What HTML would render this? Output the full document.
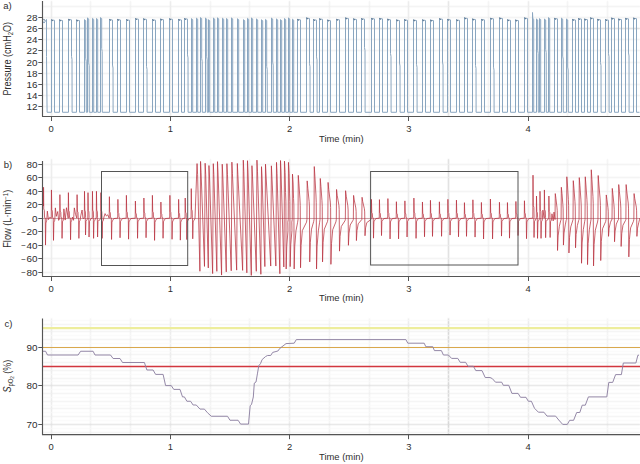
<!DOCTYPE html>
<html><head><meta charset="utf-8"><style>
html,body{margin:0;padding:0;background:#fff;width:640px;height:464px;overflow:hidden}
svg{display:block}
text{font-family:"Liberation Sans", sans-serif}
</style></head><body>
<svg width="640" height="464" viewBox="0 0 640 464" font-family='"Liberation Sans", sans-serif'><defs><filter id="sm" x="0" y="0" width="640" height="464" filterUnits="userSpaceOnUse" color-interpolation-filters="sRGB"><feConvolveMatrix order="3" kernelMatrix="1 2 1 2 8 2 1 2 1" divisor="20" edgeMode="none"/></filter></defs><rect width="640" height="464" fill="#fff"/><g filter="url(#sm)"><line x1="51.5" y1="1.0" x2="51.5" y2="116.5" stroke="#dedede" stroke-width="0.9"/><line x1="90.5" y1="1.0" x2="90.5" y2="116.5" stroke="#ebebeb" stroke-width="0.9"/><line x1="130.5" y1="1.0" x2="130.5" y2="116.5" stroke="#ebebeb" stroke-width="0.9"/><line x1="170.5" y1="1.0" x2="170.5" y2="116.5" stroke="#dedede" stroke-width="0.9"/><line x1="210.5" y1="1.0" x2="210.5" y2="116.5" stroke="#ebebeb" stroke-width="0.9"/><line x1="249.5" y1="1.0" x2="249.5" y2="116.5" stroke="#ebebeb" stroke-width="0.9"/><line x1="289.5" y1="1.0" x2="289.5" y2="116.5" stroke="#dedede" stroke-width="0.9"/><line x1="329.5" y1="1.0" x2="329.5" y2="116.5" stroke="#ebebeb" stroke-width="0.9"/><line x1="369.5" y1="1.0" x2="369.5" y2="116.5" stroke="#ebebeb" stroke-width="0.9"/><line x1="408.5" y1="1.0" x2="408.5" y2="116.5" stroke="#dedede" stroke-width="0.9"/><line x1="448.5" y1="1.0" x2="448.5" y2="116.5" stroke="#d4d4d4" stroke-width="0.9"/><line x1="488.5" y1="1.0" x2="488.5" y2="116.5" stroke="#ebebeb" stroke-width="0.9"/><line x1="528.5" y1="1.0" x2="528.5" y2="116.5" stroke="#dedede" stroke-width="0.9"/><line x1="567.5" y1="1.0" x2="567.5" y2="116.5" stroke="#ebebeb" stroke-width="0.9"/><line x1="607.5" y1="1.0" x2="607.5" y2="116.5" stroke="#ebebeb" stroke-width="0.9"/><line x1="42.5" y1="106.5" x2="640" y2="106.5" stroke="#ececec" stroke-width="1"/><line x1="42.5" y1="95.5" x2="640" y2="95.5" stroke="#ececec" stroke-width="1"/><line x1="42.5" y1="84.5" x2="640" y2="84.5" stroke="#ececec" stroke-width="1"/><line x1="42.5" y1="73.5" x2="640" y2="73.5" stroke="#ececec" stroke-width="1"/><line x1="42.5" y1="62.5" x2="640" y2="62.5" stroke="#ececec" stroke-width="1"/><line x1="42.5" y1="50.5" x2="640" y2="50.5" stroke="#ececec" stroke-width="1"/><line x1="42.5" y1="39.5" x2="640" y2="39.5" stroke="#ececec" stroke-width="1"/><line x1="42.5" y1="28.5" x2="640" y2="28.5" stroke="#ececec" stroke-width="1"/><line x1="42.5" y1="17.5" x2="640" y2="17.5" stroke="#ececec" stroke-width="1"/><line x1="42.5" y1="6.5" x2="640" y2="6.5" stroke="#ececec" stroke-width="1"/><line x1="42.5" y1="28.5" x2="640" y2="28.5" stroke="#cdcdcd" stroke-width="1.0"/><line x1="51.5" y1="159" x2="51.5" y2="276.5" stroke="#dedede" stroke-width="0.9"/><line x1="90.5" y1="159" x2="90.5" y2="276.5" stroke="#ebebeb" stroke-width="0.9"/><line x1="130.5" y1="159" x2="130.5" y2="276.5" stroke="#ebebeb" stroke-width="0.9"/><line x1="170.5" y1="159" x2="170.5" y2="276.5" stroke="#dedede" stroke-width="0.9"/><line x1="210.5" y1="159" x2="210.5" y2="276.5" stroke="#ebebeb" stroke-width="0.9"/><line x1="249.5" y1="159" x2="249.5" y2="276.5" stroke="#ebebeb" stroke-width="0.9"/><line x1="289.5" y1="159" x2="289.5" y2="276.5" stroke="#dedede" stroke-width="0.9"/><line x1="329.5" y1="159" x2="329.5" y2="276.5" stroke="#ebebeb" stroke-width="0.9"/><line x1="369.5" y1="159" x2="369.5" y2="276.5" stroke="#ebebeb" stroke-width="0.9"/><line x1="408.5" y1="159" x2="408.5" y2="276.5" stroke="#dedede" stroke-width="0.9"/><line x1="448.5" y1="159" x2="448.5" y2="276.5" stroke="#c8c8c8" stroke-width="0.9"/><line x1="488.5" y1="159" x2="488.5" y2="276.5" stroke="#ebebeb" stroke-width="0.9"/><line x1="528.5" y1="159" x2="528.5" y2="276.5" stroke="#dedede" stroke-width="0.9"/><line x1="567.5" y1="159" x2="567.5" y2="276.5" stroke="#ebebeb" stroke-width="0.9"/><line x1="607.5" y1="159" x2="607.5" y2="276.5" stroke="#ebebeb" stroke-width="0.9"/><line x1="42.5" y1="272.5" x2="640" y2="272.5" stroke="#ececec" stroke-width="1"/><line x1="42.5" y1="258.5" x2="640" y2="258.5" stroke="#ececec" stroke-width="1"/><line x1="42.5" y1="245.5" x2="640" y2="245.5" stroke="#ececec" stroke-width="1"/><line x1="42.5" y1="231.5" x2="640" y2="231.5" stroke="#ececec" stroke-width="1"/><line x1="42.5" y1="218.5" x2="640" y2="218.5" stroke="#ececec" stroke-width="1"/><line x1="42.5" y1="204.5" x2="640" y2="204.5" stroke="#ececec" stroke-width="1"/><line x1="42.5" y1="191.5" x2="640" y2="191.5" stroke="#ececec" stroke-width="1"/><line x1="42.5" y1="177.5" x2="640" y2="177.5" stroke="#ececec" stroke-width="1"/><line x1="42.5" y1="164.5" x2="640" y2="164.5" stroke="#ececec" stroke-width="1"/><line x1="51.5" y1="318.5" x2="51.5" y2="434.7" stroke="#dedede" stroke-width="0.9"/><line x1="90.5" y1="318.5" x2="90.5" y2="434.7" stroke="#ebebeb" stroke-width="0.9"/><line x1="130.5" y1="318.5" x2="130.5" y2="434.7" stroke="#ebebeb" stroke-width="0.9"/><line x1="170.5" y1="318.5" x2="170.5" y2="434.7" stroke="#dedede" stroke-width="0.9"/><line x1="210.5" y1="318.5" x2="210.5" y2="434.7" stroke="#ebebeb" stroke-width="0.9"/><line x1="249.5" y1="318.5" x2="249.5" y2="434.7" stroke="#ebebeb" stroke-width="0.9"/><line x1="289.5" y1="318.5" x2="289.5" y2="434.7" stroke="#dedede" stroke-width="0.9"/><line x1="329.5" y1="318.5" x2="329.5" y2="434.7" stroke="#ebebeb" stroke-width="0.9"/><line x1="369.5" y1="318.5" x2="369.5" y2="434.7" stroke="#ebebeb" stroke-width="0.9"/><line x1="408.5" y1="318.5" x2="408.5" y2="434.7" stroke="#dedede" stroke-width="0.9"/><line x1="448.5" y1="318.5" x2="448.5" y2="434.7" stroke="#b8b8b8" stroke-width="0.9"/><line x1="488.5" y1="318.5" x2="488.5" y2="434.7" stroke="#ebebeb" stroke-width="0.9"/><line x1="528.5" y1="318.5" x2="528.5" y2="434.7" stroke="#dedede" stroke-width="0.9"/><line x1="567.5" y1="318.5" x2="567.5" y2="434.7" stroke="#ebebeb" stroke-width="0.9"/><line x1="607.5" y1="318.5" x2="607.5" y2="434.7" stroke="#ebebeb" stroke-width="0.9"/><line x1="42.5" y1="435.5" x2="640" y2="435.5" stroke="#f9f9f9" stroke-width="1"/><line x1="42.5" y1="428.5" x2="640" y2="428.5" stroke="#f9f9f9" stroke-width="1"/><line x1="42.5" y1="420.5" x2="640" y2="420.5" stroke="#f9f9f9" stroke-width="1"/><line x1="42.5" y1="412.5" x2="640" y2="412.5" stroke="#f9f9f9" stroke-width="1"/><line x1="42.5" y1="405.5" x2="640" y2="405.5" stroke="#f9f9f9" stroke-width="1"/><line x1="42.5" y1="397.5" x2="640" y2="397.5" stroke="#f9f9f9" stroke-width="1"/><line x1="42.5" y1="389.5" x2="640" y2="389.5" stroke="#f9f9f9" stroke-width="1"/><line x1="42.5" y1="381.5" x2="640" y2="381.5" stroke="#f9f9f9" stroke-width="1"/><line x1="42.5" y1="374.5" x2="640" y2="374.5" stroke="#f9f9f9" stroke-width="1"/><line x1="42.5" y1="366.5" x2="640" y2="366.5" stroke="#f9f9f9" stroke-width="1"/><line x1="42.5" y1="358.5" x2="640" y2="358.5" stroke="#f9f9f9" stroke-width="1"/><line x1="42.5" y1="351.5" x2="640" y2="351.5" stroke="#f9f9f9" stroke-width="1"/><line x1="42.5" y1="343.5" x2="640" y2="343.5" stroke="#f9f9f9" stroke-width="1"/><line x1="42.5" y1="335.5" x2="640" y2="335.5" stroke="#f9f9f9" stroke-width="1"/><line x1="42.5" y1="327.5" x2="640" y2="327.5" stroke="#f9f9f9" stroke-width="1"/><line x1="42.5" y1="320.5" x2="640" y2="320.5" stroke="#f9f9f9" stroke-width="1"/><line x1="42.5" y1="432.5" x2="640" y2="432.5" stroke="#eeeeee" stroke-width="1"/><line x1="42.5" y1="424.5" x2="640" y2="424.5" stroke="#eeeeee" stroke-width="1"/><line x1="42.5" y1="416.5" x2="640" y2="416.5" stroke="#eeeeee" stroke-width="1"/><line x1="42.5" y1="408.5" x2="640" y2="408.5" stroke="#eeeeee" stroke-width="1"/><line x1="42.5" y1="401.5" x2="640" y2="401.5" stroke="#eeeeee" stroke-width="1"/><line x1="42.5" y1="393.5" x2="640" y2="393.5" stroke="#eeeeee" stroke-width="1"/><line x1="42.5" y1="385.5" x2="640" y2="385.5" stroke="#eeeeee" stroke-width="1"/><line x1="42.5" y1="378.5" x2="640" y2="378.5" stroke="#eeeeee" stroke-width="1"/><line x1="42.5" y1="370.5" x2="640" y2="370.5" stroke="#eeeeee" stroke-width="1"/><line x1="42.5" y1="362.5" x2="640" y2="362.5" stroke="#eeeeee" stroke-width="1"/><line x1="42.5" y1="354.5" x2="640" y2="354.5" stroke="#eeeeee" stroke-width="1"/><line x1="42.5" y1="347.5" x2="640" y2="347.5" stroke="#eeeeee" stroke-width="1"/><line x1="42.5" y1="339.5" x2="640" y2="339.5" stroke="#eeeeee" stroke-width="1"/><line x1="42.5" y1="331.5" x2="640" y2="331.5" stroke="#eeeeee" stroke-width="1"/><line x1="42.5" y1="324.5" x2="640" y2="324.5" stroke="#eeeeee" stroke-width="1"/><line x1="42.5" y1="385.5" x2="640" y2="385.5" stroke="#dadada" stroke-width="1.0"/><line x1="42.5" y1="424.5" x2="640" y2="424.5" stroke="#dadada" stroke-width="1.0"/></g><line x1="42.5" y1="328.1" x2="640" y2="328.1" stroke="#eded9c" stroke-width="2.2"/><line x1="42.5" y1="347.5" x2="640" y2="347.5" stroke="#d9a84c" stroke-width="1.2"/><line x1="42.5" y1="366.5" x2="640" y2="366.5" stroke="#d2373f" stroke-width="1.3"/><path d="M42.5 351.25 L45.6 351.25 L47.5 355 L78.1 355 L80.6 351.25 L93.1 351.25 L95 355 L110.5 355 L113.1 358.5 L120 358.5 L122.5 362.5 L144.4 362.5 L146.9 370 L153.1 370 L155.6 374.4 L163.1 374.4 L165.6 385.6 L171.25 385.6 L173.75 389.4 L180 389.4 L182.5 396.9 L184.4 396.9 L186.9 401.25 L190.6 401.25 L193.1 405 L196.25 405 L200 409.1 L204.4 409.1 L207.5 412.75 L211.25 416.25 L227.5 416.25 L230 420.25 L238.1 420.25 L240.6 424.1 L248.5 424.1 L250.2 405.6 L251.5 404.5 L253.3 397 L254.3 383.1 L256 382 L257.4 373.9 L258.8 365.7 L260.5 363.6 L262.1 359.6 L265.6 356.5 L267.6 355.5 L270.7 355.5 L272.7 352.4 L277.9 351 L279.9 348.3 L284 345.2 L286 343.6 L294.2 343.2 L296.3 339.6 L405.9 339.6 L407.8 343.2 L424.2 343.2 L425.8 346.7 L432.8 346.7 L434.4 350.6 L441.4 350.6 L443.4 355 L448.4 355 L451.6 358.4 L457.8 358.4 L460.2 362.3 L465.6 362.3 L468 366.25 L473.4 366.25 L475.8 370.6 L482 370.6 L485.2 377.5 L490 377.5 L492.3 378.6 L495.5 382.2 L501.7 382.2 L503.3 385.3 L508.75 385.3 L511.9 393.4 L518.1 393.4 L520.5 397.3 L526 397.3 L528.3 401.25 L531.4 401.25 L534.5 408.3 L538.4 412.2 L543.9 412.2 L547 416.1 L555.6 416.1 L558.75 420 L562.7 424.4 L567.3 424.4 L569.7 420.3 L573.6 420.3 L576.7 412.5 L579.8 412.5 L582.2 405.2 L585.3 405.2 L588.4 396.9 L606.8 396.9 L608.8 382.4 L612.7 382.4 L615.6 374.6 L621.4 374.6 L623.3 363 L635.9 363 L637.9 355.2 L639 355.2" fill="none" stroke="#8e82a2" stroke-width="0.95" stroke-linejoin="round"/><path d="M43 21.4 L44 23.07 L46.5 19.45 L46.5 56.52 L47.1 112.28 L51.5 112.28 L51.5 19.44 L52.1 21.04 L52.6 20.04 L54.5 20.34 L54.5 112.28 L59.5 112.28 L59.5 19.61 L60.1 21.21 L60.6 20.21 L62.5 20.51 L62.5 112.28 L68.5 112.28 L68.5 18.96 L69.1 20.56 L69.6 19.56 L71.5 19.86 L71.5 56.36 L72 59.36 L72.1 112.28 L76.5 112.28 L76.5 19.69 L77.1 21.29 L77.6 20.29 L79.5 20.59 L79.5 112.28 L84.5 112.28 L84.5 19.62 L85.7 20.62 L85.7 58.21 L86.2 61.21 L86.3 112.28 L87.5 112.28 L87.5 17.93 L88.7 18.93 L88.7 62.7 L89.2 65.7 L89.3 112.28 L92.5 112.28 L92.5 18.38 L93.7 19.38 L93.7 112.28 L96.5 112.28 L96.5 18.49 L97.7 19.49 L97.7 112.28 L100.5 112.28 L100.5 17.6 L101.7 18.6 L101.7 48.53 L102.2 51.53 L102.3 112.28 L109.5 112.28 L109.5 19.13 L110.1 20.73 L110.6 19.73 L112.5 20.03 L112.5 65.05 L113 68.05 L113.1 112.28 L117.5 112.28 L117.5 19.09 L118.1 20.69 L118.6 19.69 L120.5 19.99 L120.5 112.28 L126.5 112.28 L126.5 19.37 L127.1 20.97 L127.6 19.97 L129.5 20.27 L129.5 112.28 L135.5 112.28 L135.5 18.35 L136.1 19.95 L136.6 18.95 L138.5 19.25 L138.5 112.28 L143.5 112.28 L143.5 18.55 L144.1 20.15 L144.6 19.15 L146.5 19.45 L146.5 66.35 L147 69.35 L147.1 112.28 L152.5 112.28 L152.5 19.32 L153.1 20.92 L153.6 19.92 L155.5 20.22 L155.5 112.28 L160.5 112.28 L160.5 18.82 L161.1 20.42 L161.6 19.42 L163.5 19.72 L163.5 112.28 L169.5 112.28 L169.5 18.47 L170.1 20.07 L170.6 19.07 L172.5 19.37 L172.5 112.28 L178.5 112.28 L178.5 19.11 L179.1 20.71 L179.6 19.71 L181.5 20.01 L181.5 112.28 L184.5 112.28 L184.5 18.22 L185.1 19.82 L185.6 18.82 L187.5 19.12 L187.5 54.87 L188 57.87 L188.1 112.28 L191.5 112.28 L191.5 18.6 L192.7 19.6 L192.7 112.28 L196.5 112.28 L196.5 18.15 L197.7 19.15 L197.7 112.28 L200.5 112.28 L200.5 17.59 L201.7 18.59 L201.7 58.35 L202.2 61.35 L202.3 112.28 L205.5 112.28 L205.5 18.09 L206.7 19.09 L206.7 56.77 L207.2 59.77 L207.3 112.28 L208.5 112.28 L208.5 19.69 L209.7 20.69 L209.7 112.28 L213.5 112.28 L213.5 18.07 L214.7 19.07 L214.7 112.28 L217.5 112.28 L217.5 17.82 L218.7 18.82 L218.7 112.28 L222.5 112.28 L222.5 18.23 L223.7 19.23 L223.7 112.28 L226.5 112.28 L226.5 18.48 L227.7 19.48 L227.7 112.28 L231.5 112.28 L231.5 17.9 L232.7 18.9 L232.7 112.28 L237.5 112.28 L237.5 18.72 L238.7 19.72 L238.7 112.28 L243.5 112.28 L243.5 19.64 L244.7 20.64 L244.7 112.28 L247.5 112.28 L247.5 18.33 L248.7 19.33 L248.7 112.28 L251.5 112.28 L251.5 17.94 L252.7 18.94 L252.7 112.28 L256.5 112.28 L256.5 18.92 L257.7 19.92 L257.7 112.28 L261.5 112.28 L261.5 19.73 L262.7 20.73 L262.7 112.28 L265.5 112.28 L265.5 19.4 L266.7 20.4 L266.7 66.36 L267.2 69.36 L267.3 112.28 L271.5 112.28 L271.5 18.06 L272.7 19.06 L272.7 62.15 L273.2 65.15 L273.3 112.28 L276.5 112.28 L276.5 18.9 L277.7 19.9 L277.7 112.28 L280.5 112.28 L280.5 19.6 L281.7 20.6 L281.7 112.28 L284.5 112.28 L284.5 18.55 L285.7 19.55 L285.7 112.28 L288.5 112.28 L288.5 17.95 L289.7 18.95 L289.7 112.28 L292.5 112.28 L292.5 19.16 L293.7 20.16 L293.7 112.28 L297.5 112.28 L297.5 18.98 L298.1 20.58 L298.6 19.58 L300.5 19.88 L300.5 112.28 L306.5 112.28 L306.5 17.64 L307.1 19.24 L307.6 18.24 L309.5 18.54 L309.5 63.75 L310 66.75 L310.1 112.28 L313.5 112.28 L313.5 19.26 L314.1 20.86 L314.6 19.86 L316.5 20.16 L316.5 56.86 L317 59.86 L317.1 112.28 L319.5 112.28 L319.5 18.46 L320.1 20.06 L320.6 19.06 L322.5 19.36 L322.5 112.28 L327.5 112.28 L327.5 19.77 L328.1 21.37 L328.6 20.37 L330.5 20.67 L330.5 112.28 L336.5 112.28 L336.5 18.95 L337.1 20.55 L337.6 19.55 L339.5 19.85 L339.5 112.28 L345.5 112.28 L345.5 17.65 L346.1 19.25 L346.6 18.25 L348.5 18.55 L348.5 112.28 L353.5 112.28 L353.5 18.63 L354.1 20.23 L354.6 19.23 L356.5 19.53 L356.5 112.28 L361.5 112.28 L361.5 18.27 L362.1 19.87 L362.6 18.87 L364.5 19.17 L364.5 47.62 L365 50.62 L365.1 112.28 L371.5 112.28 L371.5 18.04 L372.1 19.64 L372.6 18.64 L374.5 18.94 L374.5 112.28 L379.5 112.28 L379.5 18 L380.1 19.6 L380.6 18.6 L382.5 18.9 L382.5 112.28 L387.5 112.28 L387.5 18.89 L388.1 20.49 L388.6 19.49 L390.5 19.79 L390.5 53.53 L391 56.53 L391.1 112.28 L396.5 112.28 L396.5 19.64 L397.1 21.24 L397.6 20.24 L399.5 20.54 L399.5 63.02 L400 66.02 L400.1 112.28 L404.5 112.28 L404.5 19.41 L405.1 21.01 L405.6 20.01 L407.5 20.31 L407.5 112.28 L413.5 112.28 L413.5 19.66 L414.1 21.26 L414.6 20.26 L416.5 20.56 L416.5 64.3 L417 67.3 L417.1 112.28 L422.5 112.28 L422.5 19.55 L423.1 21.15 L423.6 20.15 L425.5 20.45 L425.5 112.28 L430.5 112.28 L430.5 19.72 L431.1 21.32 L431.6 20.32 L433.5 20.62 L433.5 112.28 L439.5 112.28 L439.5 18.41 L440.1 20.01 L440.6 19.01 L442.5 19.31 L442.5 62.05 L443 65.05 L443.1 112.28 L447.5 112.28 L447.5 19 L448.1 20.6 L448.6 19.6 L450.5 19.9 L450.5 112.28 L456.5 112.28 L456.5 19.5 L457.1 21.1 L457.6 20.1 L459.5 20.4 L459.5 112.28 L464.5 112.28 L464.5 17.56 L465.1 19.16 L465.6 18.16 L467.5 18.46 L467.5 112.28 L472.5 112.28 L472.5 18.7 L473.1 20.3 L473.6 19.3 L475.5 19.6 L475.5 65.4 L476 68.4 L476.1 112.28 L481.5 112.28 L481.5 19.01 L482.1 20.61 L482.6 19.61 L484.5 19.91 L484.5 112.28 L490.5 112.28 L490.5 17.93 L491.1 19.53 L491.6 18.53 L493.5 18.83 L493.5 67.16 L494 70.16 L494.1 112.28 L499.5 112.28 L499.5 17.66 L500.1 19.26 L500.6 18.26 L502.5 18.56 L502.5 112.28 L507.5 112.28 L507.5 19.45 L508.1 21.05 L508.6 20.05 L510.5 20.35 L510.5 112.28 L515.5 112.28 L515.5 19.72 L516.1 21.32 L516.6 20.32 L518.5 20.62 L518.5 112.28 L524.5 112.28 L524.5 17.59 L525.1 19.19 L525.6 18.19 L527.5 18.49 L527.5 112.28 L532.5 112.28 L532.5 12.5 L532.8 18.62 L532.5 18.22 L533.7 19.22 L533.7 112.28 L536.5 112.28 L536.5 18.96 L537.7 19.96 L537.7 50.46 L538.2 53.46 L538.3 112.28 L539.5 112.28 L539.5 18.59 L540.7 19.59 L540.7 112.28 L544.5 112.28 L544.5 19.04 L545.7 20.04 L545.7 49.58 L546.2 52.58 L546.3 112.28 L548.5 112.28 L548.5 17.58 L549.7 18.58 L549.7 112.28 L554.5 112.28 L554.5 17.98 L555.1 19.58 L555.6 18.58 L557.5 18.88 L557.5 112.28 L561.5 112.28 L561.5 18.13 L562.7 19.13 L562.7 56.13 L563.2 59.13 L563.3 112.28 L566.5 112.28 L566.5 18.98 L567.7 19.98 L567.7 67.05 L568.2 70.05 L568.3 112.28 L572.5 112.28 L572.5 19.15 L573.1 20.75 L573.6 19.75 L575.5 20.05 L575.5 112.28 L578.5 112.28 L578.5 18.23 L579.1 19.83 L579.6 18.83 L581.5 19.13 L581.5 112.28 L584.5 112.28 L584.5 18.78 L585.1 20.38 L585.6 19.38 L587.5 19.68 L587.5 112.28 L590.5 112.28 L590.5 17.57 L591.1 19.17 L591.6 18.17 L593.5 18.47 L593.5 112.28 L597.5 112.28 L597.5 18.96 L598.1 20.56 L598.6 19.56 L600.5 19.86 L600.5 62.62 L601 65.62 L601.1 112.28 L605.5 112.28 L605.5 19.34 L606.1 20.94 L606.6 19.94 L608.5 20.24 L608.5 53.76 L609 56.76 L609.1 112.28 L611.5 112.28 L611.5 17.77 L612.1 19.37 L612.6 18.37 L614.5 18.67 L614.5 112.28 L618.5 112.28 L618.5 18.71 L619.1 20.31 L619.6 19.31 L621.5 19.61 L621.5 112.28 L625.5 112.28 L625.5 17.99 L626.1 19.59 L626.6 18.59 L628.5 18.89 L628.5 52.94 L629 55.94 L629.1 112.28 L633.5 112.28 L633.5 17.75 L634.1 19.35 L634.6 18.35 L636.5 18.65 L636.5 112.28 L639.5 112.28" fill="none" stroke="#8aa6c0" stroke-width="1" stroke-linejoin="round"/><path d="M43.5 19.15 L44.7 20.35 M51.5 19.54 L52.7 20.74 M59.5 19.71 L60.7 20.91 M68.5 19.06 L69.7 20.26 M76.5 19.79 L77.7 20.99 M109.5 19.23 L110.7 20.43 M117.5 19.19 L118.7 20.39 M126.5 19.47 L127.7 20.67 M135.5 18.45 L136.7 19.65 M143.5 18.65 L144.7 19.85 M152.5 19.42 L153.7 20.62 M160.5 18.92 L161.7 20.12 M169.5 18.57 L170.7 19.77 M178.5 19.21 L179.7 20.41 M184.5 18.32 L185.7 19.52 M297.5 19.08 L298.7 20.28 M306.5 17.74 L307.7 18.94 M313.5 19.36 L314.7 20.56 M319.5 18.56 L320.7 19.76 M327.5 19.87 L328.7 21.07 M336.5 19.05 L337.7 20.25 M345.5 17.75 L346.7 18.95 M353.5 18.73 L354.7 19.93 M361.5 18.37 L362.7 19.57 M371.5 18.14 L372.7 19.34 M379.5 18.1 L380.7 19.3 M387.5 18.99 L388.7 20.19 M396.5 19.74 L397.7 20.94 M404.5 19.51 L405.7 20.71 M413.5 19.76 L414.7 20.96 M422.5 19.65 L423.7 20.85 M430.5 19.82 L431.7 21.02 M439.5 18.51 L440.7 19.71 M447.5 19.1 L448.7 20.3 M456.5 19.6 L457.7 20.8 M464.5 17.66 L465.7 18.86 M472.5 18.8 L473.7 20 M481.5 19.11 L482.7 20.31 M490.5 18.03 L491.7 19.23 M499.5 17.76 L500.7 18.96 M507.5 19.55 L508.7 20.75 M515.5 19.82 L516.7 21.02 M524.5 17.69 L525.7 18.89 M554.5 18.08 L555.7 19.28 M572.5 19.25 L573.7 20.45 M578.5 18.33 L579.7 19.53 M584.5 18.88 L585.7 20.08 M590.5 17.67 L591.7 18.87 M597.5 19.06 L598.7 20.26 M605.5 19.44 L606.7 20.64 M611.5 17.87 L612.7 19.07 M618.5 18.81 L619.7 20.01 M625.5 18.09 L626.7 19.29 M633.5 17.85 L634.7 19.05 " fill="none" stroke="#5f7890" stroke-width="1.1"/><line x1="42.5" y1="218.5" x2="640" y2="218.5" stroke="#c08890" stroke-width="0.8"/><path d="M43 203.41 L43.5 206.09 L43.55 187.26 L43.75 208.92 L44.35 210.47 L44.55 217.53 L45.25 217.86 L45.5 245.1 L45.9 223.04 L46.75 220.22 L47.35 211.14 L48.44 219.59 L49.71 217.32 L51.25 218.2 L51.45 189.95 L51.75 209.73 L52.35 211.14 L52.55 217.53 L53.25 217.86 L53.5 240.39 L53.9 222.19 L54.75 220.22 L55.35 207.86 L56.39 216.3 L57.76 211.51 L58.66 220.36 L59.7 218.2 L59.9 194.66 L60.2 211.14 L60.8 212.32 L61 217.53 L61.8 217.86 L62.05 238.38 L62.45 221.83 L63.3 220.22 L63.9 208.85 L65.18 220.07 L66.48 207.73 L68.2 218.2 L68.4 192.64 L68.7 210.53 L69.3 211.81 L69.5 217.53 L70.3 217.86 L70.55 239.72 L70.95 222.07 L71.8 220.22 L72.4 217.05 L73.53 220.3 L74.33 207.87 L75.52 214.44 L76.88 218.2 L77.08 194.66 L77.38 211.14 L77.98 212.32 L78.18 217.53 L78.64 217.86 L78.89 238.38 L79.29 221.83 L80.14 220.22 L80.74 215.82 L82.07 210.01 L82.99 218.51 L84.3 218.2 L84.5 191.3 L84.8 210.13 L85.4 211.47 L85.6 217.53 L85.29 217.86 L85.54 235.01 L85.94 221.23 L86.79 220.22 L87.8 218.2 L88 192.64 L88.3 210.53 L88.9 211.81 L89.1 217.53 L88.79 217.86 L89.04 237.03 L89.44 221.59 L90.29 220.22 L90.89 218.68 L92.26 218.2 L92.46 191.3 L92.76 210.13 L93.36 211.47 L93.56 217.53 L93.33 217.86 L93.58 238.38 L93.98 221.83 L94.83 220.22 L95.43 218.4 L96.26 218.2 L96.46 191.3 L96.76 210.13 L97.36 211.47 L97.56 217.53 L97.33 217.86 L97.58 237.03 L97.98 221.59 L98.83 220.22 L99.43 220.3 L100.7 218.2 L100.9 192.64 L101.2 210.53 L101.8 211.81 L102 217.53 L101.88 217.86 L102.13 238.38 L102.53 221.83 L103.38 220.22 L103.98 217 L105.05 213.6 L106.4 216.01 L107.75 214.81 L109.2 218.2 L109.4 196.68 L109.7 211.74 L110.3 212.82 L110.5 217.53 L111.3 217.86 L111.55 239.46 L111.95 222.03 L112.8 220.22 L113.8 218.54 L117.7 218.2 L117.9 199.37 L118.2 212.55 L118.8 213.49 L119 217.53 L119.8 217.86 L120.05 237.77 L120.45 221.72 L121.3 220.22 L122.3 218.54 L126.2 218.2 L126.4 195.33 L126.7 211.34 L127.3 212.48 L127.5 217.53 L128.3 217.86 L128.55 239.18 L128.95 221.98 L129.8 220.22 L130.8 218.54 L135.2 218.2 L135.4 201.05 L135.7 213.06 L136.3 213.91 L136.5 217.53 L137.3 217.86 L137.55 238.32 L137.95 221.82 L138.8 220.22 L139.8 218.54 L143.7 218.2 L143.9 198.02 L144.2 212.15 L144.8 213.16 L145 217.53 L145.8 217.86 L146.05 237.72 L146.45 221.71 L147.3 220.22 L148.3 218.54 L152.2 218.2 L152.4 195.33 L152.7 211.34 L153.3 212.48 L153.5 217.53 L154.3 217.86 L154.55 240.39 L154.95 222.19 L155.8 220.22 L156.8 218.54 L160.7 218.2 L160.9 202.06 L161.2 213.36 L161.8 214.16 L162 217.53 L162.8 217.86 L163.05 238.28 L163.45 221.81 L164.3 220.22 L165.3 218.54 L169.7 218.2 L169.9 195.33 L170.2 211.34 L170.8 212.48 L171 217.53 L171.8 217.86 L172.05 239.29 L172.45 222 L173.3 220.22 L174.3 218.54 L178.44 218.2 L178.64 199.37 L178.94 212.55 L179.54 213.49 L179.74 217.53 L180.09 217.86 L180.34 240.14 L180.74 222.15 L181.59 220.22 L182.59 218.54 L185.01 218.2 L185.21 198.02 L185.51 212.15 L186.11 213.16 L186.31 217.53 L186.54 217.86 L186.79 239.57 L187.19 222.05 L188.04 220.22 L189.04 218.54 L191.07 218.2 L191.27 188.61 L191.57 209.32 L192.17 210.8 L192.37 217.53 L192.49 217.86 L192.74 238.8 L193.14 221.91 L193.99 220.22 L194.99 218.54 L197.05 163.58 L197.6 174.5 L199.9 271.25 L200.55 161.43 L201.1 172.79 L204.49 266.42 L205.14 163.24 L205.69 174.23 L208.29 267.95 L208.94 165.53 L209.49 176.06 L212.64 273.58 L213.29 163.67 L213.84 174.57 L216.84 271.32 L217.49 161.63 L218.04 172.94 L221.57 275.09 L222.22 164.19 L222.77 174.99 L226.27 271.87 L226.92 163.68 L227.47 174.59 L231.23 270.79 L231.88 162.17 L232.43 173.38 L236.67 270.14 L237.32 163.46 L237.87 174.41 L242.64 270.42 L243.29 160.16 L243.84 171.77 L246.84 272.8 L247.49 160.69 L248.04 172.19 L251.3 275.41 L251.95 165.67 L252.5 176.17 L256.3 271.3 L256.95 160.15 L257.5 171.76 L260.86 274.31 L261.51 166.66 L262.06 176.96 L264.86 266.58 L265.51 164.19 L266.06 175 L270.73 266.06 L271.38 165.82 L271.93 176.3 L275.86 266.06 L276.51 162.36 L277.06 173.53 L279.86 273.71 L280.51 160.52 L281.06 172.06 L283.82 266.94 L284.22 219.54 L284.47 161.17 L285.12 172.58 L285.56 192.54 L285.86 201.09 L286.16 268.97 L286.76 246.13 L287.96 230.89 L287.82 222.26 L288.22 219.54 L288.47 162.38 L289.12 173.55 L289.56 193.08 L289.86 201.45 L290.16 266.62 L290.76 244.83 L291.96 230.3 L291.82 222.07 L292.22 219.54 L292.47 174.15 L293.12 182.96 L293.56 198.38 L293.86 204.99 L294.16 268.97 L294.76 246.13 L295.96 230.89 L297.63 222.26 L298.03 219.54 L298.28 175.36 L298.93 183.93 L299.94 198.92 L300.24 205.35 L300.54 267.76 L301.14 245.46 L302.34 230.59 L306.53 222.17 L306.93 219.54 L307.18 180.88 L307.83 188.34 L309.13 201.4 L309.43 207 L309.73 261.91 L310.33 242.24 L311.53 229.13 L313.63 221.7 L314.03 219.54 L314.28 166.55 L314.93 176.88 L315.94 194.96 L316.24 202.71 L316.54 268.97 L317.14 246.13 L318.34 230.89 L319.63 222.26 L320.03 219.54 L320.28 178.46 L320.93 186.4 L321.94 200.31 L322.24 206.28 L322.54 261.91 L323.14 242.24 L324.34 229.13 L327.44 221.7 L327.84 219.54 L328.09 182.42 L328.74 189.58 L330.32 202.1 L330.62 207.47 L330.92 264.33 L331.52 243.57 L332.72 229.73 L335.9 221.89 L336.3 219.54 L336.55 189.48 L337.2 195.23 L338.9 205.28 L339.2 209.59 L339.5 251.15 L340.1 236.32 L341.3 226.44 L344.94 220.84 L345.34 219.54 L345.59 190.69 L346.24 196.2 L347.82 205.82 L348.12 209.95 L348.42 245.3 L349.02 233.11 L350.22 224.98 L352.94 220.37 L353.34 219.54 L353.59 195.4 L354.24 199.96 L355.82 207.94 L356.12 211.36 L356.42 240.59 L357.02 230.52 L358.22 223.8 L361.4 219.99 L361.8 219.54 L362.05 197.29 L362.7 201.47 L364.4 208.79 L364.7 211.93 L365 235.75 L365.6 227.85 L366.8 222.59 L370.85 219.6 L371.25 218.2 L371.45 199.36 L371.75 212.55 L372.35 213.49 L372.55 217.53 L373.25 217.86 L373.5 238.17 L373.9 221.8 L374.75 220.22 L375.75 218.54 L379.25 218.2 L379.45 199.62 L379.75 212.63 L380.35 213.56 L380.55 217.53 L381.25 217.86 L381.5 235.59 L381.9 221.33 L382.75 220.22 L383.75 218.54 L387.7 218.2 L387.9 198.58 L388.2 212.31 L388.8 213.29 L389 217.53 L389.8 217.86 L390.05 238.92 L390.45 221.93 L391.3 220.22 L392.3 218.54 L396.2 218.2 L396.4 201.7 L396.7 213.25 L397.3 214.07 L397.5 217.53 L398.3 217.86 L398.55 238.86 L398.95 221.92 L399.8 220.22 L400.8 218.54 L404.7 218.2 L404.9 200.86 L405.2 213 L405.8 213.86 L406 217.53 L406.8 217.86 L407.05 236.98 L407.45 221.58 L408.3 220.22 L409.3 218.54 L413.7 218.2 L413.9 198.07 L414.2 212.16 L414.8 213.17 L415 217.53 L415.8 217.86 L416.05 238.37 L416.45 221.83 L417.3 220.22 L418.3 218.54 L422.25 218.2 L422.45 201.97 L422.75 213.33 L423.35 214.14 L423.55 217.53 L424.25 217.86 L424.5 236.75 L424.9 221.54 L425.75 220.22 L426.75 218.54 L430.25 218.2 L430.45 200.31 L430.75 212.83 L431.35 213.73 L431.55 217.53 L432.25 217.86 L432.5 236.38 L432.9 221.47 L433.75 220.22 L434.75 218.54 L439.2 218.2 L439.4 201.81 L439.7 213.28 L440.3 214.1 L440.5 217.53 L441.3 217.86 L441.55 236.3 L441.95 221.46 L442.8 220.22 L443.8 218.54 L447.7 218.2 L447.9 199.33 L448.2 212.54 L448.8 213.48 L449 217.53 L449.8 217.86 L450.05 235.09 L450.45 221.24 L451.3 220.22 L452.3 218.54 L456.25 218.2 L456.45 200.12 L456.75 212.78 L457.35 213.68 L457.55 217.53 L458.25 217.86 L458.5 236.79 L458.9 221.55 L459.75 220.22 L460.75 218.54 L464.25 218.2 L464.45 202.65 L464.75 213.53 L465.35 214.31 L465.55 217.53 L466.25 217.86 L466.5 236.35 L466.9 221.47 L467.75 220.22 L468.75 218.54 L472.7 218.2 L472.9 199.8 L473.2 212.68 L473.8 213.6 L474 217.53 L474.8 217.86 L475.05 237.08 L475.45 221.6 L476.3 220.22 L477.3 218.54 L481.2 218.2 L481.4 202.43 L481.7 213.47 L482.3 214.26 L482.5 217.53 L483.3 217.86 L483.55 238.99 L483.95 221.94 L484.8 220.22 L485.8 218.54 L490.2 218.2 L490.4 199.02 L490.7 212.45 L491.3 213.41 L491.5 217.53 L492.3 217.86 L492.55 238.93 L492.95 221.93 L493.8 220.22 L494.8 218.54 L499.25 218.2 L499.45 202.24 L499.75 213.41 L500.35 214.21 L500.55 217.53 L501.25 217.86 L501.5 236.08 L501.9 221.42 L502.75 220.22 L503.75 218.54 L507.25 218.2 L507.45 202.55 L507.75 213.5 L508.35 214.29 L508.55 217.53 L509.25 217.86 L509.5 238.16 L509.9 221.79 L510.75 220.22 L511.75 218.54 L515.7 218.2 L515.9 201.46 L516.2 213.18 L516.8 214.01 L517 217.53 L517.8 217.86 L518.05 235.54 L518.45 221.32 L519.3 220.22 L520.3 218.54 L524.25 218.2 L524.45 200.74 L524.75 212.96 L525.35 213.84 L525.55 217.53 L526.25 217.86 L526.5 238.69 L526.9 221.89 L527.75 220.22 L528.75 218.54 L532.8 218.2 L533 175.16 L533.3 205.29 L533.9 207.44 L534.1 217.53 L533.79 217.86 L534.04 237.5 L534.44 221.67 L535.29 220.22 L536.3 218.2 L536.5 196.01 L536.8 211.54 L537.4 212.65 L537.6 217.53 L537.29 217.86 L537.54 238.38 L537.94 221.83 L538.79 220.22 L539.8 218.2 L540 191.3 L540.3 210.13 L540.9 211.47 L541.1 217.53 L540.79 217.86 L541.04 238.38 L541.44 221.83 L542.29 220.22 L542.89 210.12 L544.2 218.2 L544.4 189.95 L544.7 209.73 L545.3 211.14 L545.5 217.53 L545.38 217.86 L545.63 237.7 L546.03 221.71 L546.88 220.22 L547.48 220.03 L548.7 218.2 L548.9 196.01 L549.2 211.54 L549.8 212.65 L550 217.53 L549.88 217.86 L550.13 237.5 L550.53 221.67 L551.38 220.22 L551.98 213.79 L553.2 220.91 L554.03 212.05 L555.03 219.54 L555.28 193.59 L555.93 198.51 L556.94 207.12 L557.24 210.82 L557.54 250.48 L558.14 235.95 L559.34 226.27 L560.68 220.78 L561.08 219.54 L561.33 187.26 L561.98 193.45 L562.85 204.28 L563.14 208.92 L563.45 245.1 L564.04 232.99 L565.25 224.92 L566.18 220.35 L566.58 219.54 L566.83 176.77 L567.48 185.06 L568.35 199.56 L568.64 205.77 L568.95 252.97 L569.54 237.32 L570.75 226.89 L572.63 220.98 L573.03 219.54 L573.28 180.67 L573.93 188.18 L574.94 201.31 L575.24 206.94 L575.54 247.79 L576.14 234.47 L577.34 225.6 L578.63 220.57 L579.03 219.54 L579.28 177.58 L579.93 185.7 L580.94 199.92 L581.24 206.01 L581.54 263.26 L582.14 242.98 L583.34 229.46 L584.63 221.8 L585.03 219.54 L585.28 176.77 L585.93 185.06 L586.94 199.56 L587.24 205.77 L587.54 264.6 L588.14 243.72 L589.34 229.8 L590.63 221.91 L591.03 219.54 L591.28 169.78 L591.93 179.46 L592.94 196.41 L593.24 203.67 L593.54 265.95 L594.14 244.46 L595.34 230.14 L597.54 222.02 L597.94 219.54 L598.19 175.5 L598.84 184.04 L600.13 198.98 L600.43 205.39 L600.73 260.57 L601.33 241.5 L602.53 228.79 L605.63 221.59 L606.03 219.54 L606.28 194.93 L606.93 199.59 L607.94 207.73 L608.24 211.22 L608.54 236.36 L609.14 228.19 L610.34 222.74 L611.63 219.65 L612.03 219.54 L612.28 188.41 L612.93 194.37 L613.94 204.79 L614.24 209.26 L614.54 241.74 L615.14 231.15 L616.34 224.08 L618.08 220.08 L618.48 219.54 L618.73 184.57 L619.38 191.3 L620.54 203.07 L620.84 208.11 L621.14 246.44 L621.74 233.73 L622.94 225.26 L625.49 220.46 L625.89 219.54 L626.14 184.57 L626.79 191.3 L628.23 203.07 L628.52 208.11 L628.83 256.87 L629.42 239.47 L630.62 227.87 L633.44 221.29 L633.84 219.54 L634.09 193.59 L634.74 198.51 L636.32 207.12 L636.62 210.82 L636.92 236.36 L637.52 228.19 L638.72 222.74 L639.5 219.65 L639.5 218.2" fill="none" stroke="#b8323f" stroke-width="0.75" stroke-linejoin="round"/><rect x="101.5" y="171.5" width="86.2" height="94" fill="none" stroke="#555" stroke-width="1"/><rect x="370.6" y="171.5" width="147.4" height="93.5" fill="none" stroke="#555" stroke-width="1"/><line x1="42.5" y1="1.0" x2="42.5" y2="116.5" stroke="#555" stroke-width="1.15"/><line x1="42.0" y1="116.5" x2="640" y2="116.5" stroke="#555" stroke-width="1.2"/><line x1="38.3" y1="106.5" x2="42.5" y2="106.5" stroke="#555" stroke-width="1"/><text x="37.5" y="110.2" text-anchor="end" font-size="9.9" fill="#2e2e2e" >12</text><line x1="38.3" y1="95.5" x2="42.5" y2="95.5" stroke="#555" stroke-width="1"/><text x="37.5" y="99.05" text-anchor="end" font-size="9.9" fill="#2e2e2e" >14</text><line x1="38.3" y1="84.5" x2="42.5" y2="84.5" stroke="#555" stroke-width="1"/><text x="37.5" y="87.9" text-anchor="end" font-size="9.9" fill="#2e2e2e" >16</text><line x1="38.3" y1="73.5" x2="42.5" y2="73.5" stroke="#555" stroke-width="1"/><text x="37.5" y="76.75" text-anchor="end" font-size="9.9" fill="#2e2e2e" >18</text><line x1="38.3" y1="62.5" x2="42.5" y2="62.5" stroke="#555" stroke-width="1"/><text x="37.5" y="65.6" text-anchor="end" font-size="9.9" fill="#2e2e2e" >20</text><line x1="38.3" y1="50.5" x2="42.5" y2="50.5" stroke="#555" stroke-width="1"/><text x="37.5" y="54.45" text-anchor="end" font-size="9.9" fill="#2e2e2e" >22</text><line x1="38.3" y1="39.5" x2="42.5" y2="39.5" stroke="#555" stroke-width="1"/><text x="37.5" y="43.3" text-anchor="end" font-size="9.9" fill="#2e2e2e" >24</text><line x1="38.3" y1="28.5" x2="42.5" y2="28.5" stroke="#555" stroke-width="1"/><text x="37.5" y="32.15" text-anchor="end" font-size="9.9" fill="#2e2e2e" >26</text><line x1="38.3" y1="17.5" x2="42.5" y2="17.5" stroke="#555" stroke-width="1"/><text x="37.5" y="21" text-anchor="end" font-size="9.9" fill="#2e2e2e" >28</text><line x1="51.5" y1="116.5" x2="51.5" y2="121.0" stroke="#555" stroke-width="1"/><text x="51" y="132.2" text-anchor="middle" font-size="9.4" fill="#2e2e2e" >0</text><line x1="170.5" y1="116.5" x2="170.5" y2="121.0" stroke="#555" stroke-width="1"/><text x="170.25" y="132.2" text-anchor="middle" font-size="9.4" fill="#2e2e2e" >1</text><line x1="289.5" y1="116.5" x2="289.5" y2="121.0" stroke="#555" stroke-width="1"/><text x="289.5" y="132.2" text-anchor="middle" font-size="9.4" fill="#2e2e2e" >2</text><line x1="408.5" y1="116.5" x2="408.5" y2="121.0" stroke="#555" stroke-width="1"/><text x="408.75" y="132.2" text-anchor="middle" font-size="9.4" fill="#2e2e2e" >3</text><line x1="528.5" y1="116.5" x2="528.5" y2="121.0" stroke="#555" stroke-width="1"/><text x="528" y="132.2" text-anchor="middle" font-size="9.4" fill="#2e2e2e" >4</text><text x="341.3" y="142.2" text-anchor="middle" font-size="9.8" fill="#2e2e2e" textLength="44.6" lengthAdjust="spacingAndGlyphs">Time (min)</text><text x="7.5" y="9" text-anchor="middle" font-size="9.5" fill="#2e2e2e" >a)</text><text transform="translate(11,58.8) rotate(-90)" text-anchor="middle" font-size="10" fill="#2e2e2e" textLength="73.6" lengthAdjust="spacingAndGlyphs">Pressure (cmH<tspan font-size="6.5" dy="2">2</tspan><tspan dy="-2">O)</tspan></text><line x1="42.5" y1="161.0" x2="42.5" y2="276.5" stroke="#555" stroke-width="1.15"/><line x1="42.0" y1="276.5" x2="640" y2="276.5" stroke="#555" stroke-width="1.2"/><line x1="38.3" y1="272.5" x2="42.5" y2="272.5" stroke="#555" stroke-width="1"/><text x="37.5" y="275.5" text-anchor="end" font-size="9.9" fill="#2e2e2e" ><tspan font-size="8" dy="-0.4">−</tspan><tspan dy="0.4" dx="0.6">80</tspan></text><line x1="38.3" y1="258.5" x2="42.5" y2="258.5" stroke="#555" stroke-width="1"/><text x="37.5" y="262.05" text-anchor="end" font-size="9.9" fill="#2e2e2e" ><tspan font-size="8" dy="-0.4">−</tspan><tspan dy="0.4" dx="0.6">60</tspan></text><line x1="38.3" y1="245.5" x2="42.5" y2="245.5" stroke="#555" stroke-width="1"/><text x="37.5" y="248.6" text-anchor="end" font-size="9.9" fill="#2e2e2e" ><tspan font-size="8" dy="-0.4">−</tspan><tspan dy="0.4" dx="0.6">40</tspan></text><line x1="38.3" y1="231.5" x2="42.5" y2="231.5" stroke="#555" stroke-width="1"/><text x="37.5" y="235.15" text-anchor="end" font-size="9.9" fill="#2e2e2e" ><tspan font-size="8" dy="-0.4">−</tspan><tspan dy="0.4" dx="0.6">20</tspan></text><line x1="38.3" y1="218.5" x2="42.5" y2="218.5" stroke="#555" stroke-width="1"/><text x="37.5" y="221.7" text-anchor="end" font-size="9.9" fill="#2e2e2e" >0</text><line x1="38.3" y1="204.5" x2="42.5" y2="204.5" stroke="#555" stroke-width="1"/><text x="37.5" y="208.25" text-anchor="end" font-size="9.9" fill="#2e2e2e" >20</text><line x1="38.3" y1="191.5" x2="42.5" y2="191.5" stroke="#555" stroke-width="1"/><text x="37.5" y="194.8" text-anchor="end" font-size="9.9" fill="#2e2e2e" >40</text><line x1="38.3" y1="177.5" x2="42.5" y2="177.5" stroke="#555" stroke-width="1"/><text x="37.5" y="181.35" text-anchor="end" font-size="9.9" fill="#2e2e2e" >60</text><line x1="38.3" y1="164.5" x2="42.5" y2="164.5" stroke="#555" stroke-width="1"/><text x="37.5" y="167.9" text-anchor="end" font-size="9.9" fill="#2e2e2e" >80</text><line x1="51.5" y1="276.5" x2="51.5" y2="281.0" stroke="#555" stroke-width="1"/><text x="51" y="292.3" text-anchor="middle" font-size="9.4" fill="#2e2e2e" >0</text><line x1="170.5" y1="276.5" x2="170.5" y2="281.0" stroke="#555" stroke-width="1"/><text x="170.25" y="292.3" text-anchor="middle" font-size="9.4" fill="#2e2e2e" >1</text><line x1="289.5" y1="276.5" x2="289.5" y2="281.0" stroke="#555" stroke-width="1"/><text x="289.5" y="292.3" text-anchor="middle" font-size="9.4" fill="#2e2e2e" >2</text><line x1="408.5" y1="276.5" x2="408.5" y2="281.0" stroke="#555" stroke-width="1"/><text x="408.75" y="292.3" text-anchor="middle" font-size="9.4" fill="#2e2e2e" >3</text><line x1="528.5" y1="276.5" x2="528.5" y2="281.0" stroke="#555" stroke-width="1"/><text x="528" y="292.3" text-anchor="middle" font-size="9.4" fill="#2e2e2e" >4</text><text x="341.3" y="301.3" text-anchor="middle" font-size="9.8" fill="#2e2e2e" textLength="44.6" lengthAdjust="spacingAndGlyphs">Time (min)</text><text x="8" y="168" text-anchor="middle" font-size="9.5" fill="#2e2e2e" >b)</text><text transform="translate(11.2,218.75) rotate(-90)" text-anchor="middle" font-size="10" fill="#2e2e2e" textLength="58.1" lengthAdjust="spacingAndGlyphs">Flow (L·min<tspan font-size="6.5" dy="-3.5">−1</tspan><tspan dy="3.5">)</tspan></text><line x1="42.5" y1="318.5" x2="42.5" y2="434.7" stroke="#555" stroke-width="1.15"/><line x1="42.0" y1="434.7" x2="640" y2="434.7" stroke="#555" stroke-width="1.2"/><line x1="38.3" y1="347.5" x2="42.5" y2="347.5" stroke="#555" stroke-width="1"/><text x="37.5" y="350.7" text-anchor="end" font-size="9.9" fill="#2e2e2e" >90</text><line x1="38.3" y1="385.5" x2="42.5" y2="385.5" stroke="#555" stroke-width="1"/><text x="37.5" y="389.3" text-anchor="end" font-size="9.9" fill="#2e2e2e" >80</text><line x1="38.3" y1="424.5" x2="42.5" y2="424.5" stroke="#555" stroke-width="1"/><text x="37.5" y="427.9" text-anchor="end" font-size="9.9" fill="#2e2e2e" >70</text><line x1="51.5" y1="434.7" x2="51.5" y2="439.2" stroke="#555" stroke-width="1"/><text x="51" y="449.6" text-anchor="middle" font-size="9.4" fill="#2e2e2e" >0</text><line x1="170.5" y1="434.7" x2="170.5" y2="439.2" stroke="#555" stroke-width="1"/><text x="170.25" y="449.6" text-anchor="middle" font-size="9.4" fill="#2e2e2e" >1</text><line x1="289.5" y1="434.7" x2="289.5" y2="439.2" stroke="#555" stroke-width="1"/><text x="289.5" y="449.6" text-anchor="middle" font-size="9.4" fill="#2e2e2e" >2</text><line x1="408.5" y1="434.7" x2="408.5" y2="439.2" stroke="#555" stroke-width="1"/><text x="408.75" y="449.6" text-anchor="middle" font-size="9.4" fill="#2e2e2e" >3</text><line x1="528.5" y1="434.7" x2="528.5" y2="439.2" stroke="#555" stroke-width="1"/><text x="528" y="449.6" text-anchor="middle" font-size="9.4" fill="#2e2e2e" >4</text><text x="341.3" y="460" text-anchor="middle" font-size="9.8" fill="#2e2e2e" textLength="44.6" lengthAdjust="spacingAndGlyphs">Time (min)</text><text x="8.5" y="327" text-anchor="middle" font-size="9.5" fill="#2e2e2e" >c)</text><text transform="translate(11.2,376.2) rotate(-90)" text-anchor="middle" font-size="10" fill="#2e2e2e" textLength="32.8" lengthAdjust="spacingAndGlyphs"><tspan font-style="italic">S</tspan><tspan font-size="6.5" dy="2">pO</tspan><tspan font-size="5" dy="1.2">2</tspan><tspan dy="-3.2"> (%)</tspan></text></svg>
</body></html>
